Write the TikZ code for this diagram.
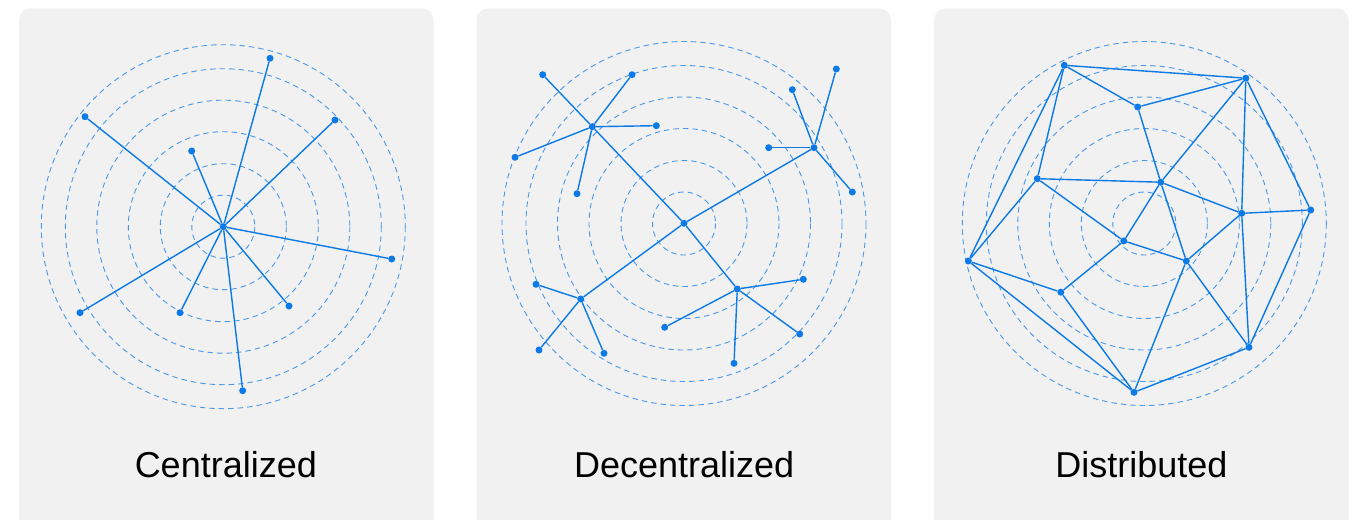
\documentclass[tikz,border=0pt]{standalone}
\usepackage{fontspec}
\setmainfont{Liberation Sans}
\definecolor{netblue}{RGB}{12,122,230}
\definecolor{ringblue}{RGB}{72,152,236}
\definecolor{panelbg}{RGB}{241,241,241}
\tikzset{
  panel/.style={fill=panelbg, draw=none, rounded corners=12pt},
  ring/.style={draw=ringblue, line width=0.9pt, dash pattern=on 5.5pt off 4pt},
  dot/.style={circle, fill=netblue, inner sep=0pt, minimum size=7pt},
  edge/.style={draw=netblue, line width=1.4pt},
  caption/.style={anchor=base, font=\fontsize{36}{43}\selectfont, text=black, inner sep=0pt}
}
\newcommand{\rings}[2]{%
  \foreach \r in {31.5,63,95,126.5,158,182} {\draw[ring] (#1,#2) circle[radius=\r];}%
}
\begin{document}
\begin{tikzpicture}[x=1pt,y=-1pt]
\useasboundingbox (0,0) rectangle (1364,519);
\clip (0,0) rectangle (1364,519);
\fill[white] (0,0) rectangle (1364,519);
% panels
\fill[panel] (19,8.3) rectangle (433.5,540);
\fill[panel] (476.5,8.3) rectangle (891,540);
\fill[panel] (934,8.3) rectangle (1348.5,540);
% rings
\rings{223.3}{226.7}
\rings{684}{223.5}
\rings{1144.3}{223.5}

% ---------- Centralized ----------
\node[dot] (c0) at (223.3,226.7) {};
\node[dot] (c1) at (270,58.3) {};
\node[dot] (c2) at (335,120) {};
\node[dot] (c3) at (85,116.7) {};
\node[dot] (c4) at (191.7,151) {};
\node[dot] (c5) at (391.7,259) {};
\node[dot] (c6) at (80,312.7) {};
\node[dot] (c7) at (180,312.7) {};
\node[dot] (c8) at (289,306) {};
\node[dot] (c9) at (242.7,390.7) {};
\foreach \i in {1,...,9} {\draw[edge] (c0) -- (c\i);}
\node[caption] (t1) at (225.8,477.3) {Centralized};

% ---------- Decentralized ----------
\node[dot] (d0) at (684,223.3) {};
\node[dot] (dA) at (592.3,126.7) {};
\node[dot] (dA1) at (542.7,74.7) {};
\node[dot] (dA2) at (632,74.7) {};
\node[dot] (dA3) at (656.3,125.7) {};
\node[dot] (dA4) at (515,157.3) {};
\node[dot] (dA5) at (577,193.7) {};
\node[dot] (dB) at (814,147.7) {};
\node[dot] (dB1) at (792.3,89.7) {};
\node[dot] (dB2) at (836.3,69) {};
\node[dot] (dB3) at (768.7,147.7) {};
\node[dot] (dB4) at (852.3,192) {};
\node[dot] (dC) at (580.7,299) {};
\node[dot] (dC1) at (536,284.3) {};
\node[dot] (dC2) at (539,350) {};
\node[dot] (dC3) at (604,353.3) {};
\node[dot] (dD) at (737.3,289) {};
\node[dot] (dD1) at (803.3,279.3) {};
\node[dot] (dD2) at (664.7,327.3) {};
\node[dot] (dD3) at (734,363.3) {};
\node[dot] (dD4) at (799.7,334) {};
\foreach \h in {A,B,C,D} {\draw[edge] (d0) -- (d\h);}
\foreach \i in {1,...,5} {\draw[edge] (dA) -- (dA\i);}
\foreach \i in {1,...,4} {\draw[edge] (dB) -- (dB\i);}
\foreach \i in {1,...,3} {\draw[edge] (dC) -- (dC\i);}
\foreach \i in {1,...,4} {\draw[edge] (dD) -- (dD\i);}
\node[caption] (t2) at (684.2,477.3) {Decentralized};

% ---------- Distributed ----------
\node[dot] (n1) at (1064.3,65.3) {};
\node[dot] (n2) at (1245.8,78.2) {};
\node[dot] (n3) at (1137.7,107) {};
\node[dot] (n4) at (1037.3,178.7) {};
\node[dot] (n5) at (1160.7,182.2) {};
\node[dot] (n6) at (1310.7,210) {};
\node[dot] (n7) at (1241.7,213.3) {};
\node[dot] (n8) at (1123.8,240.9) {};
\node[dot] (n9) at (968.3,261) {};
\node[dot] (n10) at (1186.3,261) {};
\node[dot] (n11) at (1060.8,292.2) {};
\node[dot] (n12) at (1249,347.3) {};
\node[dot] (n13) at (1134,392.3) {};
\foreach \a/\b in {n1/n2,n1/n3,n3/n2,n1/n4,n1/n9,n2/n5,n2/n7,n2/n6,n3/n5,n4/n5,n4/n9,n4/n8,n5/n7,n5/n8,n5/n10,n6/n7,n6/n12,n7/n10,n7/n12,n8/n10,n8/n11,n9/n11,n9/n13,n11/n13,n10/n13,n10/n12,n12/n13}
  {\draw[edge] (\a) -- (\b);}
\node[caption] (t3) at (1141.3,477.3) {Distributed};
\end{tikzpicture}
\end{document}
